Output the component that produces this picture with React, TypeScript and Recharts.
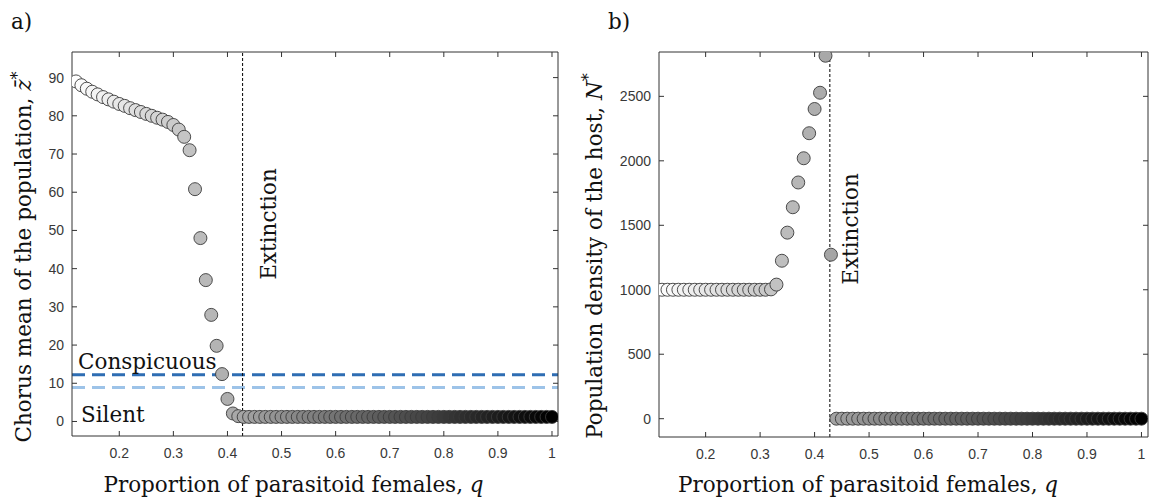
import React from 'react';
import { ScatterChart, Scatter, XAxis, YAxis, ReferenceLine } from 'recharts';

// proportion of parasitoid females, q
const qValues = [
  0.12, 0.13, 0.14, 0.15, 0.16, 0.17, 0.18, 0.19,
  0.2, 0.21, 0.22, 0.23, 0.24, 0.25, 0.26, 0.27, 0.28, 0.29,
  0.3, 0.31, 0.32, 0.33, 0.34, 0.35, 0.36, 0.37, 0.38, 0.39,
  0.4, 0.41, 0.42, 0.43, 0.44, 0.45, 0.46, 0.47, 0.48, 0.49,
  0.5, 0.51, 0.52, 0.53, 0.54, 0.55, 0.56, 0.57, 0.58, 0.59,
  0.6, 0.61, 0.62, 0.63, 0.64, 0.65, 0.66, 0.67, 0.68, 0.69,
  0.7, 0.71, 0.72, 0.73, 0.74, 0.75, 0.76, 0.77, 0.78, 0.79,
  0.8, 0.81, 0.82, 0.83, 0.84, 0.85, 0.86, 0.87, 0.88, 0.89,
  0.9, 0.91, 0.92, 0.93, 0.94, 0.95, 0.96, 0.97, 0.98, 0.99,
  1.0,
];

// chorus mean of the population, z-bar*
const chorusMean = [
  89.0, 88.0, 87.1, 86.3, 85.6, 84.9, 84.3, 83.7,
  83.1, 82.6, 82.0, 81.5, 81.0, 80.5, 80.0, 79.5, 79.0, 78.4,
  77.6, 76.4, 74.5, 71.0, 60.8, 48.0, 37.0, 27.9, 19.8, 12.4,
  5.9, 2.1, 1.4, 1.2, 1.2, 1.2, 1.2, 1.2, 1.2, 1.2,
  1.2, 1.2, 1.2, 1.2, 1.2, 1.2, 1.2, 1.2, 1.2, 1.2,
  1.2, 1.2, 1.2, 1.2, 1.2, 1.2, 1.2, 1.2, 1.2, 1.2,
  1.2, 1.2, 1.2, 1.2, 1.2, 1.2, 1.2, 1.2, 1.2, 1.2,
  1.2, 1.2, 1.2, 1.2, 1.2, 1.2, 1.2, 1.2, 1.2, 1.2,
  1.2, 1.2, 1.2, 1.2, 1.2, 1.2, 1.2, 1.2, 1.2, 1.2,
  1.2,
];

// population density of the host, N*
const hostDensity = [
  1000, 1000, 1000, 1000, 1000, 1000, 1000, 1000,
  1000, 1000, 1000, 1000, 1000, 1000, 1000, 1000, 1000, 1000,
  1000, 1000, 1003, 1040, 1225, 1443, 1640, 1832, 2020, 2214,
  2402, 2528, 2815, 1272, 0, 0, 0, 0, 0, 0,
  0, 0, 0, 0, 0, 0, 0, 0, 0, 0,
  0, 0, 0, 0, 0, 0, 0, 0, 0, 0,
  0, 0, 0, 0, 0, 0, 0, 0, 0, 0,
  0, 0, 0, 0, 0, 0, 0, 0, 0, 0,
  0, 0, 0, 0, 0, 0, 0, 0, 0, 0,
  0,
];

const xTicks = [0.2, 0.3, 0.4, 0.5, 0.6, 0.7, 0.8, 0.9, 1];
const zTicks = [0, 10, 20, 30, 40, 50, 60, 70, 80, 90];
const nTicks = [0, 500, 1000, 1500, 2000, 2500];

const conspicuousThreshold = 12.2;
const silentThreshold = 8.9;
const extinctionQ = 0.428;

const SERIF = "'DejaVu Serif', serif";
const SANS = "'Liberation Sans', Arial, sans-serif";
const AXIS_COLOR = '#333333';
const TICK_STYLE = { fill: '#383838', fontSize: 14, fontFamily: SANS };

const grayFill = (i: number, n: number) => {
  const v = Math.round(255 * (1 - i / (n - 1)));
  return `rgb(${v},${v},${v})`;
};

const zData = qValues.map((q, i) => ({ q, v: chorusMean[i], fill: grayFill(i, qValues.length) }));
const nData = qValues.map((q, i) => ({ q, v: hostDensity[i], fill: grayFill(i, qValues.length) }));

const Dot = (props: any) => {
  const { cx, cy, payload } = props;
  if (cx == null || cy == null) return null;
  return <circle cx={cx} cy={cy} r={6.5} fill={payload.fill} stroke="#3a3a3a" strokeWidth={0.9} />;
};

const empty = () => '';

interface PanelProps {
  data: { q: number; v: number; fill: string }[];
  xDomain: [number, number];
  yDomain: [number, number];
  yTicks: number[];
  margin: { top: number; right: number; bottom: number; left: number };
  thresholds?: boolean;
}

const Panel = ({ data, xDomain, yDomain, yTicks, margin, thresholds }: PanelProps) => (
  <ScatterChart width={576} height={501} margin={margin}>
    <XAxis
      xAxisId="b"
      type="number"
      dataKey="q"
      orientation="bottom"
      height={1}
      domain={xDomain}
      ticks={xTicks}
      interval={0}
      allowDataOverflow
      tickSize={-5}
      tickMargin={17}
      stroke={AXIS_COLOR}
      tick={TICK_STYLE}
    />
    <XAxis
      xAxisId="t"
      type="number"
      dataKey="q"
      orientation="top"
      height={1}
      domain={xDomain}
      ticks={xTicks}
      interval={0}
      allowDataOverflow
      tickSize={-5}
      stroke={AXIS_COLOR}
      tickFormatter={empty}
    />
    <YAxis
      yAxisId="l"
      type="number"
      dataKey="v"
      orientation="left"
      width={1}
      domain={yDomain}
      ticks={yTicks}
      interval={0}
      allowDataOverflow
      tickSize={-5}
      tickMargin={13}
      stroke={AXIS_COLOR}
      tick={TICK_STYLE}
    />
    <YAxis
      yAxisId="r"
      type="number"
      dataKey="v"
      orientation="right"
      width={1}
      domain={yDomain}
      ticks={yTicks}
      interval={0}
      allowDataOverflow
      tickSize={-5}
      stroke={AXIS_COLOR}
      tickFormatter={empty}
    />
    {thresholds && (
      <ReferenceLine xAxisId="b" yAxisId="l" y={silentThreshold} stroke="#9dc3e8" strokeWidth={3} strokeDasharray="13 7" />
    )}
    {thresholds && (
      <ReferenceLine xAxisId="b" yAxisId="l" y={conspicuousThreshold} stroke="#2e6db3" strokeWidth={3} strokeDasharray="13 7" />
    )}
    <Scatter xAxisId="b" yAxisId="l" data={data} dataKey="v" shape={Dot} isAnimationActive={false} />
    <ReferenceLine xAxisId="b" yAxisId="l" x={extinctionQ} stroke="#000" strokeWidth={1} strokeDasharray="3 2" />
  </ScatterChart>
);

const textStyle = { fontFamily: SERIF, fontSize: 21.5, fill: '#111' };

export default function App() {
  return (
    <div style={{ position: 'absolute', left: 0, top: 0, width: 1151, height: 501, background: '#fff', overflow: 'hidden' }}>
      <div style={{ position: 'absolute', left: 0, top: 0 }}>
        <Panel
          data={zData}
          xDomain={[0.1126, 1.0111]}
          yDomain={[-3.8, 96.7]}
          yTicks={zTicks}
          margin={{ top: 51, right: 17, bottom: 64, left: 71 }}
          thresholds
        />
      </div>
      <div style={{ position: 'absolute', left: 575, top: 0 }}>
        <Panel
          data={nData}
          xDomain={[0.1144, 1.012]}
          yDomain={[-142, 2844]}
          yTicks={nTicks}
          margin={{ top: 51, right: 2, bottom: 63, left: 83 }}
        />
      </div>
      <svg width={1151} height={501} style={{ position: 'absolute', left: 0, top: 0, pointerEvents: 'none' }}>
        <text x={11} y={29} style={textStyle}>a)</text>
        <text x={608} y={29} style={textStyle}>b)</text>

        <text x={293.5} y={492} textAnchor="middle" style={textStyle}>
          Proportion of parasitoid females, <tspan fontStyle="italic">q</tspan>
        </text>
        <text x={868} y={492} textAnchor="middle" style={textStyle}>
          Proportion of parasitoid females, <tspan fontStyle="italic">q</tspan>
        </text>

        <text x={30.5} y={257} textAnchor="middle" transform="rotate(-90 30.5 257)" style={textStyle}>
          Chorus mean of the population, <tspan fontStyle="italic">{'z\u0304'}</tspan>
          <tspan dy={-8} fontSize={16}>*</tspan>
        </text>
        <text x={602} y={256} textAnchor="middle" transform="rotate(-90 602 256)" style={textStyle}>
          Population density of the host, <tspan fontStyle="italic">N</tspan>
          <tspan dy={-8} fontSize={16}>*</tspan>
        </text>

        <text x={276} y={224} textAnchor="middle" transform="rotate(-90 276 224)" style={textStyle}>Extinction</text>
        <text x={857.5} y={229} textAnchor="middle" transform="rotate(-90 857.5 229)" style={textStyle}>Extinction</text>

        <text x={78} y={369} style={textStyle}>Conspicuous</text>
        <text x={81} y={421.5} style={textStyle}>Silent</text>
      </svg>
    </div>
  );
}
